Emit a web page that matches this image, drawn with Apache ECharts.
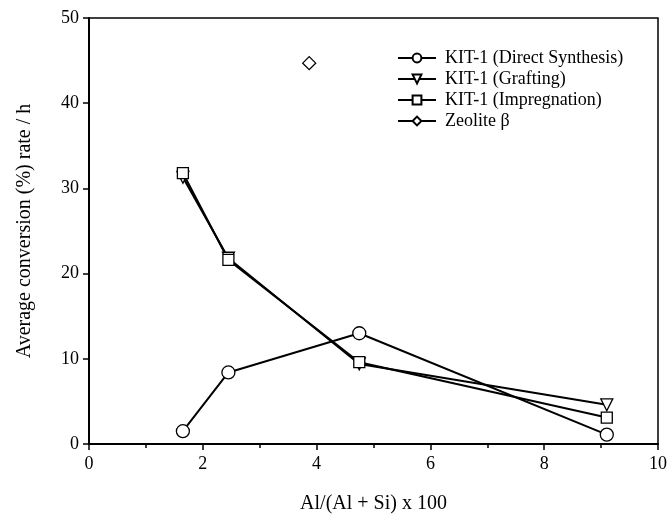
<!DOCTYPE html>
<html>
<head>
<meta charset="utf-8">
<script src="https://cdn.jsdelivr.net/npm/echarts@6/dist/echarts.min.js"></script>
<style>
  html, body { margin: 0; padding: 0; background: #fff; }
  #chart { width: 671px; height: 520px; }
</style>
</head>
<body>
<div id="chart"></div>
<script>
// Al content (x) shared by the three KIT-1 samples
var alContent = [1.65, 2.45, 4.75, 9.1];
var directSynthesis = [1.5, 8.4, 13.0, 1.1];
var grafting = [31.3, 21.8, 9.4, 4.6];
var impregnation = [31.8, 21.6, 9.6, 3.1];
var zeoliteX = [3.87];
var zeoliteY = [44.7];

var seriesNames = ['KIT-1 (Direct Synthesis)', 'KIT-1 (Grafting)', 'KIT-1 (Impregnation)', 'Zeolite \u03b2'];

var FONT = '"Liberation Serif", "DejaVu Serif", serif';

function pairs(xs, ys) {
  return xs.map(function (x, i) { return [x, ys[i]]; });
}

function lineSeries(name, data, symbol, size, rotate) {
  return {
    name: name,
    type: 'line',
    data: data,
    symbol: symbol,
    symbolSize: size,
    symbolRotate: rotate || 0,
    showAllSymbol: true,
    lineStyle: { color: '#000', width: 2 },
    itemStyle: { color: '#fff', borderColor: '#000', borderWidth: 1.3 },
    emphasis: { disabled: true },
    z: 3
  };
}

var chart = echarts.init(document.getElementById('chart'));
chart.setOption({
  animation: false,
  backgroundColor: '#fff',
  textStyle: { fontFamily: FONT, color: '#000' },
  grid: {
    left: 89, right: 13, top: 18, bottom: 76,
    show: true, borderColor: '#000', borderWidth: 1.5
  },
  legend: {
    orient: 'vertical',
    left: 392, top: 44,
    itemWidth: 38, itemHeight: 11, itemGap: 3,
    data: seriesNames,
    textStyle: { fontFamily: FONT, fontSize: 18, color: '#000', padding: [0, 0, 0, 4] }
  },
  xAxis: {
    type: 'value',
    min: 0, max: 10, interval: 2,
    name: 'Al/(Al + Si) x 100',
    nameLocation: 'middle',
    nameGap: 50,
    nameTextStyle: { fontFamily: FONT, fontSize: 20, color: '#000' },
    axisLine: { lineStyle: { color: '#000', width: 2 } },
    axisTick: { inside: false, length: 6, lineStyle: { color: '#000', width: 1.5 } },
    minorTick: { show: true, splitNumber: 2, length: 4, lineStyle: { color: '#000', width: 1.5 } },
    splitLine: { show: false },
    axisLabel: { margin: 11, fontFamily: FONT, fontSize: 18, color: '#000' }
  },
  yAxis: {
    type: 'value',
    min: 0, max: 50, interval: 10,
    name: 'Average conversion (%) rate / h',
    nameLocation: 'middle',
    nameGap: 54,
    nameTextStyle: { fontFamily: FONT, fontSize: 20, color: '#000' },
    axisLine: { lineStyle: { color: '#000', width: 2 } },
    axisTick: { inside: false, length: 6, lineStyle: { color: '#000', width: 1.5 } },
    splitLine: { show: false },
    axisLabel: { margin: 10, fontFamily: FONT, fontSize: 18, color: '#000' }
  },
  series: [
    lineSeries(seriesNames[0], pairs(alContent, directSynthesis), 'circle', 13),
    lineSeries(seriesNames[1], pairs(alContent, grafting), 'triangle', 12, 180),
    lineSeries(seriesNames[2], pairs(alContent, impregnation), 'rect', 11),
    lineSeries(seriesNames[3], pairs(zeoliteX, zeoliteY), 'diamond', [13, 13])
  ]
});
</script>
</body>
</html>
